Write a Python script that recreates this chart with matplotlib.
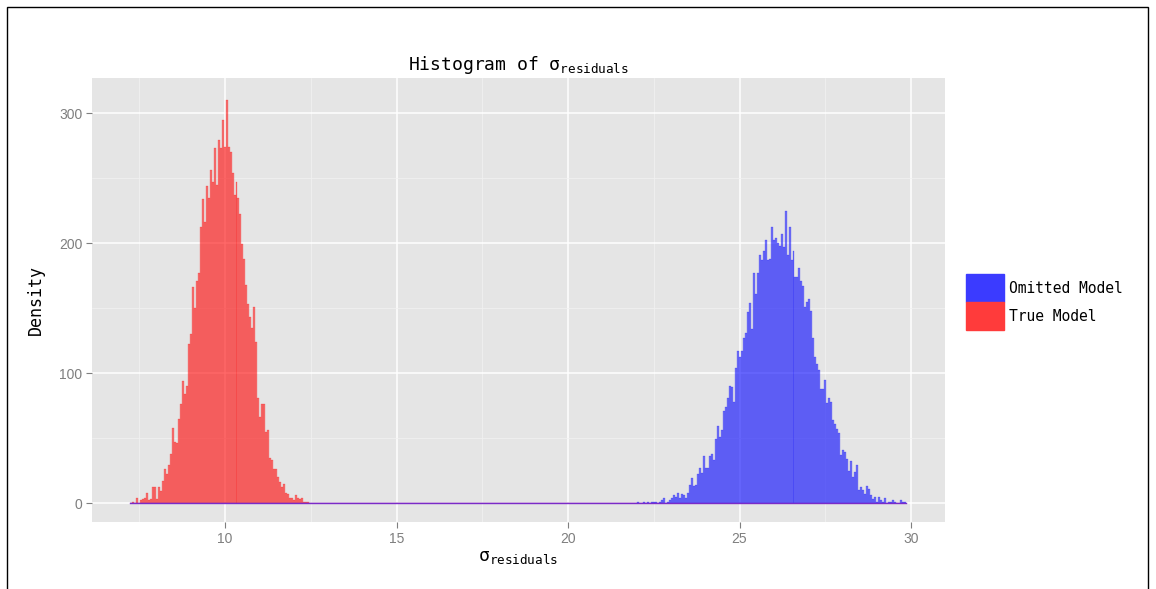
import numpy as np
import matplotlib
matplotlib.use('Agg')
import matplotlib.pyplot as plt
from matplotlib.patches import Patch, Rectangle
from matplotlib.ticker import MultipleLocator

# histogram bins shared by both models
bin_lo = 7.23
bin_width = 0.058
n_bins = 390

# counts per bin for each model, starting at the given left edge
true_start = 7.288
true_counts = [1, 0, 4, 0, 2, 3, 4, 8, 2, 3, 12, 12, 3, 12, 9, 17, 26, 22, 29,
               38, 58, 47, 46, 65, 76, 94, 84, 90, 122, 130, 166, 150, 171, 177, 212, 234,
               216, 244, 235, 256, 247, 273, 245, 279, 273, 295, 274,
               310, 274, 270, 254, 237, 247, 235, 222, 199, 188, 168, 153, 143, 135, 151,
               124, 81, 66, 76, 76, 55, 56, 35, 33, 26, 26, 20, 16, 12, 15, 8, 7, 4, 4, 2,
               6, 4, 3, 4, 1, 1, 1]

omitted_start = 22.02
omitted_counts = [1, 0, 0, 1, 0, 1, 0,
                  1, 1, 1, 0, 1, 2, 4, 0, 1, 2, 4, 6, 5, 8, 4, 7, 6, 4, 8, 14, 19, 13, 14,
                  22, 27, 23, 36, 27, 27, 36, 38, 33, 49, 59, 51, 56, 71, 74, 81, 90, 89,
                  78, 104, 117, 112, 117, 127, 131,
                  147, 154, 134, 177, 161, 177, 191, 187, 194, 202, 187, 188, 212, 202, 204,
                  200, 198, 207, 197, 225, 191, 212, 187, 194, 174, 174, 181, 171, 167, 151,
                  155, 157, 148, 127, 112, 107, 102, 88, 88, 95, 77, 81, 78, 64, 61, 57, 54,
                  37, 41,
                  39, 34, 25, 32, 20, 24, 29, 10, 12, 10, 7, 13, 11, 6, 3, 5, 1, 5, 2, 1, 4,
                  0, 1, 1, 2, 1, 0, 0, 2, 1, 1, 1]

labels = ['Omitted Model', 'True Model']
x_ticks = [10, 15, 20, 25, 30]
y_ticks = [0, 100, 200, 300]


def full_counts(start, counts):
    out = np.zeros(n_bins)
    i0 = int(round((start - bin_lo) / bin_width))
    counts = counts[:n_bins - i0]
    out[i0:i0 + len(counts)] = counts
    return out


edges = bin_lo + bin_width * np.arange(n_bins)

mono = 'DejaVu Sans Mono'
plt.rcParams['mathtext.fontset'] = 'custom'
plt.rcParams['mathtext.rm'] = mono
plt.rcParams['mathtext.it'] = mono
sigma = r'$\mathrm{\u03c3_{residuals}}$'.replace(r'\u03c3', '\u03c3')

fig = plt.figure(figsize=(11.56, 5.89), dpi=100)
ax = fig.add_axes([92 / 1156, 1 - 522 / 589, (945 - 92) / 1156, (522 - 78) / 589])
ax.set_facecolor('#E5E5E5')

ax.bar(edges, full_counts(true_start, true_counts), width=bin_width, align='edge',
       facecolor=(1, 0, 0, 0.5), edgecolor=(1, 0, 0, 0.55), linewidth=0.25, zorder=3)
ax.bar(edges, full_counts(omitted_start, omitted_counts), width=bin_width, align='edge',
       facecolor=(0, 0, 1, 0.5), edgecolor=(0, 0, 1, 0.55), linewidth=0.25, zorder=3)
# zero line left by the empty bins of both histograms
ax.plot([edges[0], edges[-1] + bin_width], [0, 0], color='#7A2BC8', linewidth=1.0, zorder=4)

ax.set_xlim(6.12, 30.99)
ax.set_ylim(-14.6, 327)
ax.set_xticks(x_ticks)
ax.set_yticks(y_ticks)
ax.xaxis.set_minor_locator(MultipleLocator(2.5))
ax.yaxis.set_minor_locator(MultipleLocator(50))
ax.grid(which='major', color='white', linewidth=1.1, zorder=0)
ax.grid(which='minor', color='#F2F2F2', linewidth=0.5, zorder=0)
ax.set_axisbelow(True)
for s in ax.spines.values():
    s.set_visible(False)
ax.tick_params(which='major', length=4, width=0.8, color='#7F7F7F', labelcolor='#7F7F7F',
               labelsize=10, pad=3)
ax.tick_params(which='minor', length=0)
for t in ax.get_xticklabels() + ax.get_yticklabels():
    t.set_fontfamily('Liberation Sans')

ax.set_title('Histogram of ' + sigma, family=mono, fontsize=13, pad=6)
ax.set_xlabel(sigma, family=mono, fontsize=13, labelpad=2)
ax.set_ylabel('Density', family=mono, fontsize=12, labelpad=10)

handles = [Patch(facecolor='#3B3BFF', edgecolor='#3B3BFF'),
           Patch(facecolor='#FF3B3B', edgecolor='#FF3B3B')]
fig.legend(handles, labels, loc='upper left', bbox_to_anchor=(966 / 1156, 1 - 274 / 589),
           frameon=False, borderpad=0, borderaxespad=0, handlelength=2.6, handleheight=2.6,
           labelspacing=0, handletextpad=0.35, prop={'family': mono, 'size': 10.5})

# thin frame round the figure
fig.patches.append(Rectangle((7 / 1156, -0.1), (1148 - 7) / 1156, 1.1 - 7 / 589,
                             transform=fig.transFigure, fill=False, edgecolor='black',
                             linewidth=1))

fig.savefig('out.png', dpi=100)
